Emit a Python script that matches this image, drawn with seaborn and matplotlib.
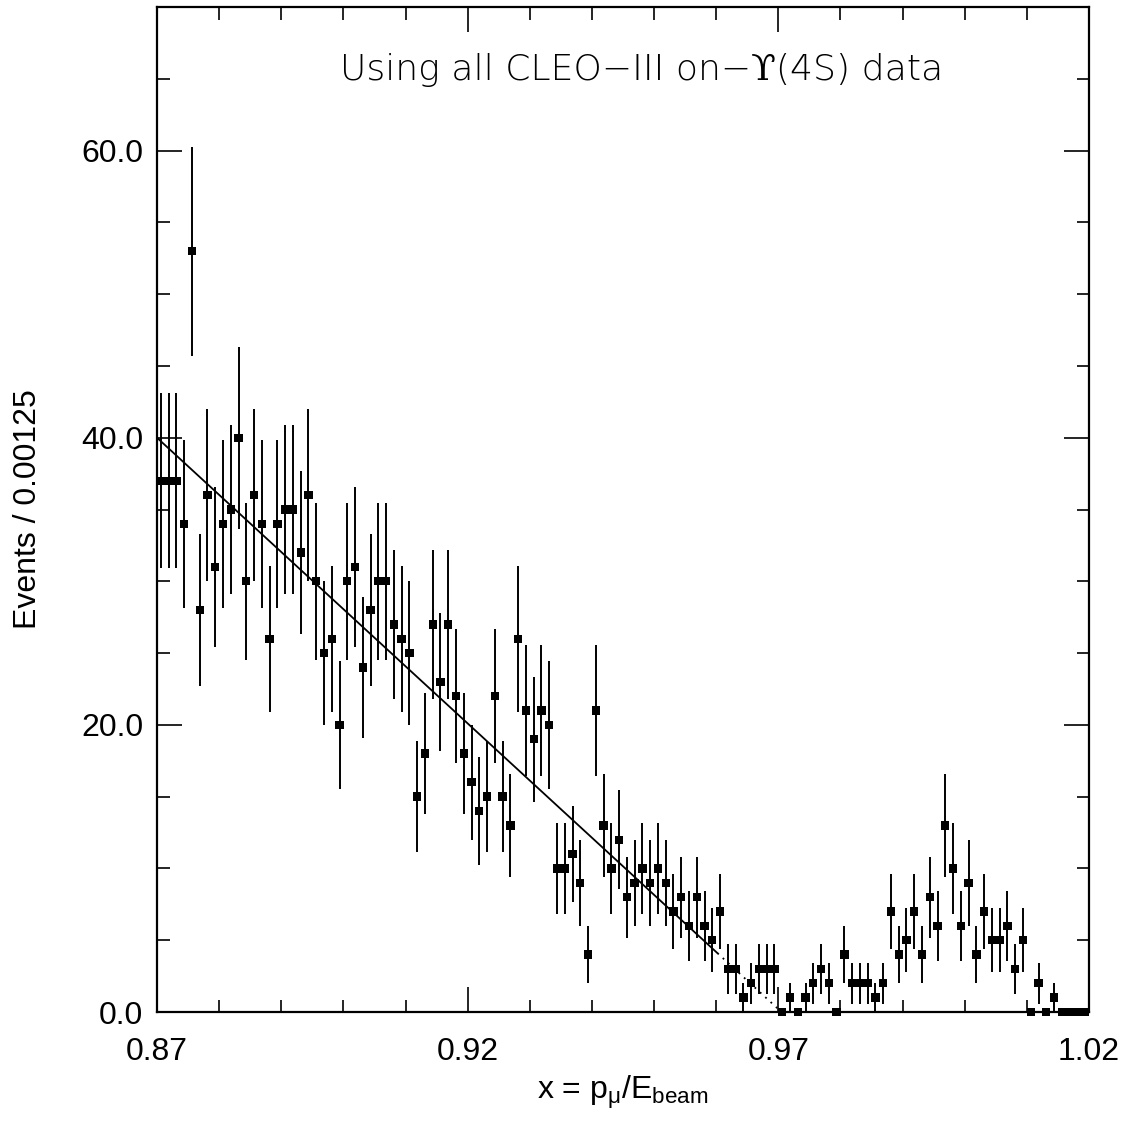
import numpy as np
import pandas as pd
import matplotlib
matplotlib.use("Agg")
import matplotlib.pyplot as plt
from matplotlib.ticker import MultipleLocator, FixedLocator
import seaborn as sns

# ---- data ----
bin_width = 0.00125
x_start = 0.87
counts = [37, 37, 37, 34, 53, 28, 36, 31, 34, 35,
          40, 30, 36, 34, 26, 34, 35, 35, 32, 36,
          30, 25, 26, 20, 30, 31, 24, 28, 30, 30,
          27, 26, 25, 15, 18, 27, 23, 27, 22, 18,
          16, 14, 15, 22, 15, 13, 26, 21, 19, 21,
          20, 10, 10, 11, 9, 4, 21, 13, 10, 12,
          8, 9, 10, 9, 10, 9, 7, 8, 6, 8,
          6, 5, 7, 3, 3, 1, 2, 3, 3, 3,
          0, 1, 0, 1, 2, 3, 2, 0, 4, 2,
          2, 2, 1, 2, 7, 4, 5, 7, 4, 8,
          6, 13, 10, 6, 9, 4, 7, 5, 5, 6,
          3, 5, 0, 2, 0, 1, 0, 0, 0, 0]
fit_solid_x = [0.87, 0.9602]
fit_solid_y = [40.0, 4.1]
fit_dot_x = [0.9602, 0.9705]
fit_dot_y = [4.1, 0.0]
x_ticks = [0.87, 0.92, 0.97, 1.02]
x_tick_labels = ["0.87", "0.92", "0.97", "1.02"]
y_ticks = [0, 20, 40, 60]
y_tick_labels = ["0.0", "20.0", "40.0", "60.0"]
title_text = "Using all CLEO\u2212III on\u2212\u03d2(4S) data"
x_label = r"x = p$_{\mathrm{\mu}}$/E$_{\mathrm{beam}}$"
y_label = "Events / 0.00125"

centers = x_start + bin_width * (np.arange(len(counts)) + 0.5)
df = pd.DataFrame({"x": centers, "n": counts})
df["err"] = np.sqrt(df["n"])

sns.set_theme(style="ticks")
plt.rcParams["font.family"] = ["Liberation Sans", "DejaVu Sans"]
plt.rcParams["mathtext.fontset"] = "custom"
plt.rcParams["mathtext.rm"] = "Liberation Sans"
plt.rcParams["mathtext.it"] = "Liberation Sans"
plt.rcParams["mathtext.bf"] = "Liberation Sans"

fig = plt.figure(figsize=(11.27, 11.21), dpi=100)
ax = fig.add_axes([157 / 1127, 109 / 1121, (1089 - 157) / 1127, (1012 - 7) / 1121])

ax.errorbar(df["x"], df["n"], yerr=df["err"], fmt="none", ecolor="black",
            elinewidth=1.4, capsize=0, clip_on=False, zorder=2)
sns.scatterplot(data=df, x="x", y="n", marker="s", s=36, color="black",
                edgecolor="none", linewidth=0, ax=ax, zorder=3, clip_on=False)
sns.lineplot(x=fit_solid_x, y=fit_solid_y, color="black", linewidth=1.3, ax=ax)
ax.plot(fit_dot_x, fit_dot_y, color="black", linewidth=1.3,
        linestyle=(0, (1, 3)))

ax.set_xlim(0.87, 1.02)
ax.set_ylim(0, 70)
ax.xaxis.set_major_locator(FixedLocator(x_ticks))
ax.set_xticklabels(x_tick_labels)
ax.xaxis.set_minor_locator(MultipleLocator(0.01))
ax.yaxis.set_major_locator(FixedLocator(y_ticks))
ax.set_yticklabels(y_tick_labels)
ax.yaxis.set_minor_locator(MultipleLocator(5))

ax.tick_params(which="both", direction="in", top=True, right=True,
               width=1.2, color="black", labelsize=23, labelcolor="black")
ax.tick_params(which="major", length=18)
ax.tick_params(which="minor", length=9)
ax.tick_params(axis="x", which="major", pad=18)
ax.tick_params(axis="y", which="major", pad=10)
for sp in ax.spines.values():
    sp.set_linewidth(1.6)
    sp.set_color("black")
    sp.set_visible(True)

ax.set_xlabel(x_label, fontsize=23, color="black", labelpad=5)
ax.set_ylabel(y_label, fontsize=23, color="black", labelpad=27)

ax.text(0.52, 0.937, title_text, transform=ax.transAxes, ha="center",
        va="center", fontsize=26, fontweight=200, color="black",
        family=["DejaVu Sans", "DejaVu Serif"])

fig.savefig("out.png", dpi=100)
